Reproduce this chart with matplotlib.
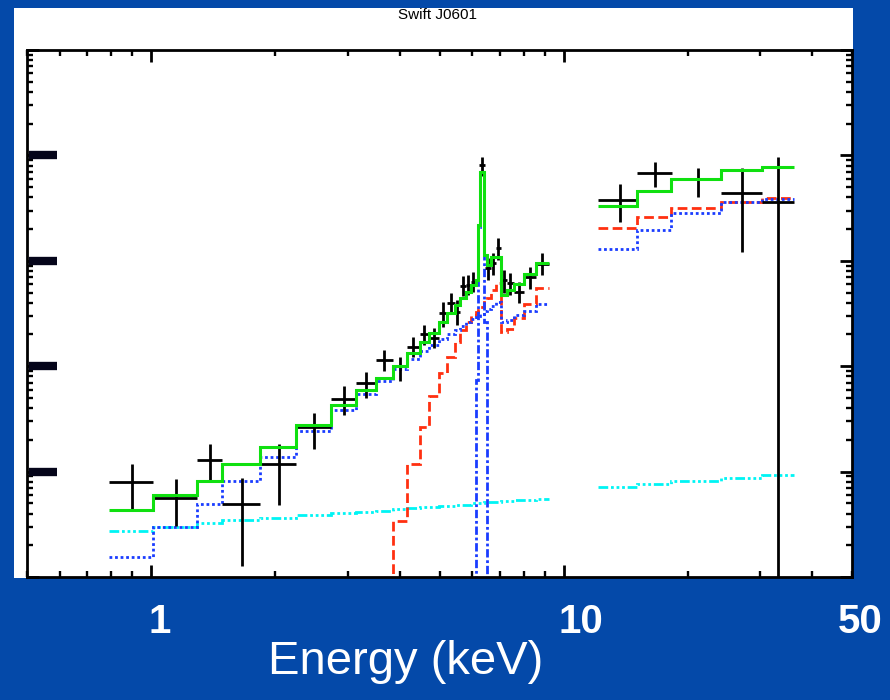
import matplotlib
matplotlib.use('Agg')
import matplotlib.pyplot as plt
import numpy as np
from matplotlib.patches import Rectangle
from matplotlib.ticker import LogLocator, NullFormatter
from matplotlib.transforms import blended_transform_factory

# ---- XRT data points (keV, model units) ----
xrt_e = [0.899, 1.149, 1.390, 1.661, 2.041, 2.481, 2.934, 3.316, 3.667, 4.009, 4.309, 4.582, 4.844, 5.093,
         5.325, 5.506, 5.693, 5.854, 6.019, 6.331, 6.546, 6.731, 6.921, 7.156, 7.400, 7.780, 8.274, 8.847]
xrt_lo = [0.791, 1.011, 1.292, 1.486, 1.836, 2.244, 2.729, 3.136, 3.506, 3.855, 4.168, 4.481, 4.711, 4.981,
          5.208, 5.446, 5.599, 5.789, 5.952, 6.224, 6.437, 6.656, 6.845, 7.038, 7.278, 7.567, 8.000, 8.556]
xrt_hi = [1.011, 1.292, 1.486, 1.836, 2.244, 2.729, 3.136, 3.506, 3.855, 4.168, 4.481, 4.711, 4.981, 5.208,
          5.446, 5.599, 5.789, 5.952, 6.120, 6.437, 6.656, 6.845, 7.038, 7.278, 7.567, 8.000, 8.556, 9.198]
xrt_y = [7.96e-5, 5.62e-5, 1.29e-4, 4.93e-5, 1.18e-4, 2.65e-4, 4.9e-4, 6.9e-4, 1.15e-3, 1.0e-3, 1.52e-3,
         2.02e-3, 1.85e-3, 3.2e-3, 3.98e-3, 3.27e-3, 5.77e-3, 5.89e-3, 6.29e-3, 0.0811, 8.55e-3, 9.53e-3,
         0.0132, 6.57e-3, 6.15e-3, 5.06e-3, 7.02e-3, 9.33e-3]
xrt_ylo = [4.42e-5, 3.05e-5, 7.96e-5, 1.27e-5, 4.82e-5, 1.64e-4, 3.44e-4, 4.99e-4, 9.0e-4, 7.2e-4, 1.22e-3,
           1.59e-3, 1.49e-3, 2.36e-3, 3.2e-3, 2.46e-3, 4.64e-3, 4.74e-3, 5.06e-3, 0.0638, 6.57e-3, 7.33e-3,
           0.01019, 4.95e-3, 4.74e-3, 3.98e-3, 5.4e-3, 7.33e-3]
xrt_yhi = [1.18e-4, 8.51e-5, 1.83e-4, 8.7e-5, 1.83e-4, 3.6e-4, 6.49e-4, 8.81e-4, 1.43e-3, 1.22e-3, 1.89e-3,
           2.46e-3, 2.30e-3, 4.06e-3, 4.95e-3, 4.25e-3, 7.18e-3, 7.33e-3, 7.83e-3, 0.0966, 0.01063, 0.01186,
           0.01645, 8.18e-3, 7.66e-3, 6.29e-3, 8.73e-3, 0.01186]

# ---- hard X-ray data points ----
bat_e = [13.66, 16.61, 21.11, 27.13, 33.16]
bat_lo = [12.09, 15.06, 18.1, 24.0, 30.3]
bat_hi = [15.02, 18.26, 24.1, 30.32, 36.1]
bat_y = [0.0378, 0.0681, 0.0597, 0.044, 0.036]
bat_ylo = [0.0233, 0.0501, 0.0403, 0.0121, 1e-7]
bat_yhi = [0.0535, 0.0866, 0.0759, 0.0759, 0.0966]

# ---- model components, XRT bins ----
xrt_edges = [0.791, 1.011, 1.292, 1.486, 1.836, 2.244, 2.729, 3.136, 3.506, 3.855, 4.168, 4.481, 4.711,
             4.981, 5.208, 5.446, 5.599, 5.789, 5.952, 6.120, 6.192, 6.261, 6.402, 6.509, 6.656, 6.845,
             7.038, 7.278, 7.567, 8.000, 8.556, 9.198]
total = [4.32e-5, 6.0e-5, 8.1e-5, 1.18e-4, 1.71e-4, 2.77e-4, 4.3e-4, 5.9e-4, 7.7e-4, 1.0e-3, 1.33e-3,
         1.70e-3, 2.06e-3, 2.62e-3, 3.2e-3, 3.81e-3, 4.44e-3, 5.06e-3, 5.89e-3, 6.57e-3, 0.0219, 0.0696,
         0.01135, 9.12e-3, 0.01087, 0.01087, 4.74e-3, 5.28e-3, 6.03e-3, 7.5e-3, 9.53e-3]
abs_pl = [1.55e-5, 2.98e-5, 4.93e-5, 8.1e-5, 1.38e-4, 2.43e-4, 3.84e-4, 5.4e-4, 7.2e-4, 9.4e-4, 1.17e-3,
          1.39e-3, 1.59e-3, 1.81e-3, 2.02e-3, 2.2e-3, 2.41e-3, 2.62e-3, 2.81e-3, 2.93e-3, 2.99e-3, 3.13e-3,
          3.34e-3, 3.49e-3, 3.73e-3, 4.06e-3, 2.62e-3, 2.74e-3, 3.06e-3, 3.34e-3, 3.89e-3]
# reflection starts at the 9th XRT bin
refl = [1e-7, 3.4e-5, 1.18e-4, 2.65e-4, 5.2e-4, 8.6e-4, 1.22e-3, 1.70e-3, 2.2e-3, 2.62e-3, 3.06e-3,
        3.27e-3, 3.41e-3, 3.65e-3, 4.06e-3, 4.44e-3, 5.28e-3, 6.15e-3, 2.11e-3, 2.25e-3, 2.87e-3,
        3.89e-3, 5.52e-3]
scatter = [2.73e-5, 2.98e-5, 3.25e-5, 3.47e-5, 3.63e-5, 3.88e-5, 4.05e-5, 4.14e-5, 4.23e-5, 4.42e-5,
           4.52e-5, 4.62e-5, 4.62e-5, 4.72e-5, 4.72e-5, 4.82e-5, 4.82e-5, 4.82e-5, 5.04e-5, 5.04e-5,
           5.04e-5, 5.04e-5, 5.15e-5, 5.15e-5, 5.15e-5, 5.15e-5, 5.26e-5, 5.26e-5, 5.38e-5, 5.38e-5, 5.5e-5]
line_edges = [6.120, 6.192, 6.261, 6.402, 6.509]
fe_line = [7.4e-4, 0.0209, 0.0696, 0.00262]

# ---- model components, hard X-ray bins ----
bat_edges = [12.09, 15.06, 18.2, 24.1, 30.3, 36.1]
bat_total = [0.0331, 0.0459, 0.0597, 0.0727, 0.0776]
bat_refl = [0.0205, 0.0261, 0.0317, 0.0361, 0.0394]
bat_abs = [0.0129, 0.0196, 0.0284, 0.0361, 0.0386]
bat_scatter = [7.14e-5, 7.62e-5, 8.1e-5, 8.7e-5, 9.29e-5]

GREEN = '#10e010'
BLUE = '#1a3cff'
RED = '#ff3010'
CYAN = '#00f4f4'
LW = 2.0

fig = plt.figure(figsize=(8.9, 7.0), dpi=100)
fig.patch.set_facecolor('#0449a9')
fig.add_artist(Rectangle((14/890, 1-578/700), 839/890, 570/700, transform=fig.transFigure,
                         facecolor='white', edgecolor='none', zorder=0))

ax = fig.add_axes([27/890, 1-577/700, 825/890, 527/700])
ax.set_xscale('log')
ax.set_yscale('log')

# models
dashdots = (0, (3.5, 1, 1, 1, 1, 1, 1, 1))
for edges, vals in [(xrt_edges, scatter), (bat_edges, bat_scatter)]:
    ax.stairs(vals, edges, baseline=None, color=CYAN, lw=LW, linestyle=dashdots)
ax.stairs(refl, xrt_edges[8:], baseline=None, color=RED, lw=LW, linestyle=(0, (3.5, 1.6)))
ax.stairs(bat_refl, bat_edges, baseline=None, color=RED, lw=LW, linestyle=(0, (3.5, 1.6)))
ax.stairs(abs_pl, xrt_edges, baseline=None, color=BLUE, lw=LW, linestyle=(0, (1, 1)))
ax.stairs(bat_abs, bat_edges, baseline=None, color=BLUE, lw=LW, linestyle=(0, (1, 1)))
ax.stairs(fe_line, line_edges, baseline=1e-8, color=BLUE, lw=LW, linestyle=(0, (3, 1, 1, 1)))

# data
for e, lo, hi, y, ylo, yhi in [(xrt_e, xrt_lo, xrt_hi, xrt_y, xrt_ylo, xrt_yhi),
                               (bat_e, bat_lo, bat_hi, bat_y, bat_ylo, bat_yhi)]:
    e = np.array(e); y = np.array(y)
    ax.errorbar(e, y, xerr=[e - np.array(lo), np.array(hi) - e],
                yerr=[y - np.array(ylo), np.array(yhi) - y],
                fmt='none', ecolor='black', elinewidth=2.0, capsize=0, zorder=3)

ax.stairs(total, xrt_edges, baseline=None, color=GREEN, lw=2.2, zorder=4)
ax.stairs(bat_total, bat_edges, baseline=None, color=GREEN, lw=2.2, zorder=4)

ax.set_xlim(0.5, 50)
ax.set_ylim(1e-5, 1)
for axis in (ax.xaxis, ax.yaxis):
    axis.set_major_locator(LogLocator(base=10, numticks=100))
    axis.set_minor_locator(LogLocator(base=10, subs=np.arange(2, 10), numticks=100))
    axis.set_minor_formatter(NullFormatter())
ax.tick_params(which='both', direction='in', top=True, right=True,
               labelbottom=False, labelleft=False)
ax.tick_params(which='major', length=8.5, width=2.0)
ax.tick_params(which='minor', length=4.5, width=1.7)
for s in ax.spines.values():
    s.set_linewidth(2.0)

# heavy left marks at the decades
trans = blended_transform_factory(ax.transAxes, ax.transData)
for v in [1e-4, 1e-3, 1e-2, 1e-1]:
    ax.plot([0.0024, 0.036], [v, v], transform=trans, color='#05051a', lw=6.0,
            solid_capstyle='butt', clip_on=False)

fig.text(437/890, 1-15/700, 'Swift J0601', ha='center', va='center', fontsize=11,
         color='black', family='Liberation Sans')
for lbl, xp in [('1', 160), ('10', 581), ('50', 860)]:
    fig.text(xp/890, 1-622/700, lbl, ha='center', va='center', fontsize=29,
             fontweight='bold', color='white', family='Liberation Sans')
fig.text(406/890, 1-662/700, 'Energy (keV)', ha='center', va='center', fontsize=34,
         color='white', family='Liberation Sans')

fig.savefig('out.png', dpi=100, facecolor=fig.get_facecolor())
